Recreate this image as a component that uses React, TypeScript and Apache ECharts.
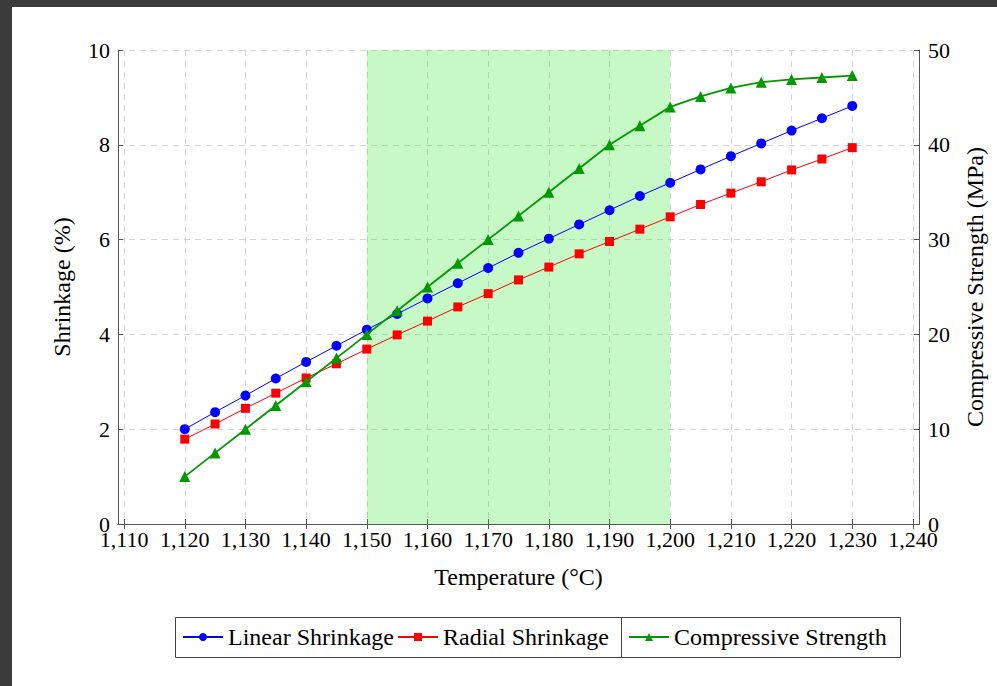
import React, { useEffect, useRef } from "react";
import * as echarts from "echarts";

const temperatures = [1120, 1125, 1130, 1135, 1140, 1145, 1150, 1155, 1160, 1165, 1170, 1175, 1180, 1185, 1190, 1195, 1200, 1205, 1210, 1215, 1220, 1225, 1230];
const linearShrinkage = [2.0, 2.36, 2.71, 3.07, 3.42, 3.76, 4.1, 4.43, 4.76, 5.08, 5.4, 5.72, 6.02, 6.32, 6.62, 6.92, 7.2, 7.48, 7.76, 8.03, 8.3, 8.56, 8.82];
const radialShrinkage = [1.79, 2.11, 2.44, 2.76, 3.08, 3.38, 3.69, 3.99, 4.28, 4.58, 4.86, 5.15, 5.42, 5.7, 5.96, 6.22, 6.48, 6.74, 6.98, 7.22, 7.47, 7.7, 7.94];
const compressiveStrength = [5, 7.5, 10, 12.5, 15, 17.5, 20, 22.5, 25, 27.5, 30, 32.5, 35, 37.5, 40, 42, 44, 45.1, 46, 46.6, 46.9, 47.1, 47.3];
const xTicks = [1110, 1120, 1130, 1140, 1150, 1160, 1170, 1180, 1190, 1200, 1210, 1220, 1230, 1240];
const highlightRange = [1150, 1200];

const FONT = "'Liberation Serif', 'DejaVu Serif', serif";

export default function App() {
  const ref = useRef<HTMLDivElement>(null);
  useEffect(() => {
    if (!ref.current) return;
    const chart = echarts.init(ref.current, null, { renderer: "svg" });
    const pair = (ys: number[]) => temperatures.map((t, i) => [t, ys[i]]);
    const axisLineStyle = { color: "#555", width: 1 };
    const gridLine = { show: true, lineStyle: { color: "#d4d4d4", type: [6, 5] as any, width: 1 } };
    const nameStyle = { fontFamily: FONT, fontSize: 24, color: "#000" };
    const legendCommon = {
      orient: "horizontal",
      top: 625,
      padding: 0,
      itemGap: 0,
      itemWidth: 40,
      itemHeight: 10,
      textStyle: { fontFamily: FONT, fontSize: 24, color: "#000" },
    };
    chart.setOption({
      animation: false,
      backgroundColor: "#fff",
      textStyle: { fontFamily: FONT },
      grid: { left: 118, top: 50, right: 78, bottom: 162, containLabel: false },
      xAxis: [
        {
          type: "value",
          min: 1109,
          max: 1241,
          position: "bottom",
          name: "Temperature (°C)",
          nameLocation: "middle",
          nameGap: 41,
          nameTextStyle: nameStyle,
          axisLine: { show: true, lineStyle: axisLineStyle },
          axisTick: { show: true, inside: true, length: 5, lineStyle: axisLineStyle, customValues: xTicks },
          axisLabel: {
            show: true,
            customValues: xTicks,
            margin: 4,
            fontFamily: FONT,
            fontSize: 22,
            color: "#000",
            formatter: (v: number) => v.toLocaleString("en-US"),
          },
          splitLine: gridLine,
        },
        {
          type: "value",
          min: 1109,
          max: 1241,
          position: "top",
          axisLine: { show: true, lineStyle: axisLineStyle },
          axisTick: { show: true, inside: true, length: 5, lineStyle: axisLineStyle, customValues: xTicks },
          axisLabel: { show: false },
          splitLine: { show: false },
        },
      ],
      yAxis: [
        {
          type: "value",
          min: 0,
          max: 10,
          interval: 2,
          position: "left",
          name: "Shrinkage (%)",
          nameLocation: "middle",
          nameGap: 44,
          nameTextStyle: nameStyle,
          axisLine: { show: true, lineStyle: axisLineStyle },
          axisTick: { show: true, inside: true, length: 5, lineStyle: axisLineStyle },
          axisLabel: { margin: 8, fontFamily: FONT, fontSize: 22, color: "#000" },
          splitLine: gridLine,
        },
        {
          type: "value",
          min: 0,
          max: 50,
          interval: 10,
          position: "right",
          name: "Compressive Strength (MPa)",
          nameLocation: "middle",
          nameGap: 44,
          nameTextStyle: nameStyle,
          axisLine: { show: true, lineStyle: axisLineStyle },
          axisTick: { show: true, inside: true, length: 5, lineStyle: axisLineStyle },
          axisLabel: { margin: 9, fontFamily: FONT, fontSize: 22, color: "#000" },
          splitLine: { show: false },
        },
      ],
      legend: [
        { ...legendCommon, left: 182, data: ["Linear Shrinkage"] },
        { ...legendCommon, left: 397, data: ["Radial Shrinkage"] },
        { ...legendCommon, left: 628, data: ["Compressive Strength"] },
      ],
      graphic: [
        { type: "rect", left: 0, top: 0, shape: { x: 0, y: 0, width: 997, height: 7 }, style: { fill: "#3b3b3b" }, z: 100 },
        { type: "rect", left: 0, top: 0, shape: { x: 0, y: 0, width: 12, height: 686 }, style: { fill: "#3b3b3b" }, z: 100 },
        { type: "rect", shape: { x: 175.5, y: 617.5, width: 725, height: 40 }, style: { fill: "none", stroke: "#444", lineWidth: 1 }, z: 50 },
        { type: "line", shape: { x1: 621.5, y1: 617.5, x2: 621.5, y2: 657.5 }, style: { stroke: "#444", lineWidth: 1 }, z: 50 },
      ],
      series: [
        {
          name: "Linear Shrinkage",
          type: "line",
          xAxisIndex: 0,
          yAxisIndex: 0,
          data: pair(linearShrinkage),
          symbol: "circle",
          symbolSize: 10,
          color: "#0000ff",
          lineStyle: { color: "#0000ff", width: 1 },
          itemStyle: { color: "#0000ff" },
          markArea: {
            silent: true,
            itemStyle: { color: "rgba(27,231,27,0.25)" },
            data: [[{ xAxis: highlightRange[0] }, { xAxis: highlightRange[1] }]],
          },
          z: 3,
        },
        {
          name: "Radial Shrinkage",
          type: "line",
          xAxisIndex: 0,
          yAxisIndex: 0,
          data: pair(radialShrinkage),
          symbol: "rect",
          symbolSize: 9,
          color: "#ff0000",
          lineStyle: { color: "#ff0000", width: 1 },
          itemStyle: { color: "#ff0000" },
          z: 3,
        },
        {
          name: "Compressive Strength",
          type: "line",
          xAxisIndex: 0,
          yAxisIndex: 1,
          data: pair(compressiveStrength),
          symbol: "triangle",
          symbolSize: 11,
          color: "#009900",
          lineStyle: { color: "#009900", width: 1.8 },
          itemStyle: { color: "#009900" },
          z: 4,
        },
      ],
    });
    return () => chart.dispose();
  }, []);
  return (
    <div
      ref={ref}
      style={{ position: "fixed", left: 0, top: 0, width: 997, height: 686, background: "#fff" }}
    />
  );
}
